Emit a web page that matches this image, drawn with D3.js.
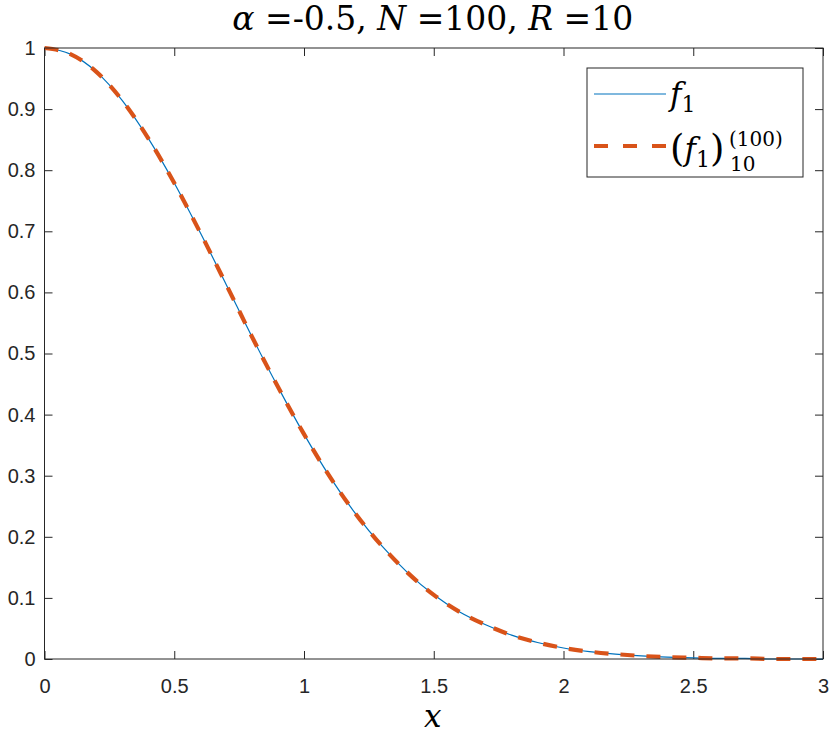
<!DOCTYPE html>
<html>
<head>
<meta charset="utf-8">
<script src="https://cdn.jsdelivr.net/npm/d3@7"></script>
<style>
  html, body { margin: 0; padding: 0; background: #fff; }
  svg { display: block; }
</style>
</head>
<body>
<svg id="chart" width="830" height="735"></svg>
<script>
// ---- data ----
const xValues = [0.0, 0.1, 0.2, 0.3, 0.4, 0.5, 0.6, 0.7, 0.8, 0.9, 1.0,
                 1.1, 1.2, 1.3, 1.4, 1.5, 1.6, 1.7, 1.8, 1.9, 2.0,
                 2.1, 2.2, 2.3, 2.4, 2.5, 2.6, 2.7, 2.8, 2.9, 3.0];
const f1Values = [1.000, 0.990, 0.961, 0.914, 0.852, 0.779, 0.698, 0.613, 0.527, 0.445, 0.368,
                  0.298, 0.237, 0.185, 0.141, 0.105, 0.077, 0.056, 0.039, 0.027, 0.018,
                  0.012, 0.008, 0.005, 0.003, 0.002, 0.001, 0.001, 0.000, 0.000, 0.000];
const approxValues = [1.000, 0.990, 0.961, 0.914, 0.852, 0.779, 0.698, 0.613, 0.527, 0.445, 0.368,
                      0.298, 0.237, 0.185, 0.141, 0.105, 0.077, 0.056, 0.039, 0.027, 0.018,
                      0.012, 0.008, 0.005, 0.003, 0.002, 0.001, 0.001, 0.000, 0.000, 0.000];
const xTicks = [0, 0.5, 1, 1.5, 2, 2.5, 3];
const xTickLabels = ["0", "0.5", "1", "1.5", "2", "2.5", "3"];
const yTicks = [0, 0.1, 0.2, 0.3, 0.4, 0.5, 0.6, 0.7, 0.8, 0.9, 1];
const yTickLabels = ["0", "0.1", "0.2", "0.3", "0.4", "0.5", "0.6", "0.7", "0.8", "0.9", "1"];

// ---- layout ----
const L = 44.5, R = 823, T = 48, B = 659;
const svg = d3.select("#chart");
const x = d3.scaleLinear().domain([0, 3]).range([L, R]);
const y = d3.scaleLinear().domain([0, 1]).range([B, T]);
const axisColor = "#262626";
const tickFont = "'Liberation Sans', Arial, sans-serif";
const mathFont = "'DejaVu Serif', serif";

function styleAxis(g) {
  g.select(".domain").remove();
  g.selectAll(".tick line").attr("stroke", axisColor).attr("stroke-width", 1);
  g.selectAll(".tick text").attr("fill", axisColor)
    .style("font-family", tickFont).style("font-size", "20px");
}
svg.append("g").attr("transform", `translate(0,${B})`)
  .call(d3.axisBottom(x).tickValues(xTicks).tickSizeInner(-8).tickSizeOuter(0)
    .tickPadding(20).tickFormat((d, i) => xTickLabels[i]))
  .call(styleAxis);
svg.append("g").attr("transform", `translate(0,${T})`)
  .call(d3.axisTop(x).tickValues(xTicks).tickSizeInner(-8).tickSizeOuter(0).tickFormat(""))
  .call(styleAxis);
svg.append("g").attr("transform", `translate(${L},0)`)
  .call(d3.axisLeft(y).tickValues(yTicks).tickSizeInner(-8).tickSizeOuter(0)
    .tickPadding(9).tickFormat((d, i) => yTickLabels[i]))
  .call(styleAxis);
svg.append("g").attr("transform", `translate(${R},0)`)
  .call(d3.axisRight(y).tickValues(yTicks).tickSizeInner(-8).tickSizeOuter(0).tickFormat(""))
  .call(styleAxis);

// lines
const line = d3.line().x(d => x(d[0])).y(d => y(d[1])).curve(d3.curveMonotoneX);
svg.append("path").datum(xValues.map((v, i) => [v, f1Values[i]]))
  .attr("d", line).attr("fill", "none").attr("stroke", "#0072BD").attr("stroke-width", 1.2);
svg.append("path").datum(xValues.map((v, i) => [v, approxValues[i]]))
  .attr("d", line).attr("fill", "none").attr("stroke", "#D95319").attr("stroke-width", 4.2)
  .attr("stroke-dasharray", "14,12");

// box
svg.append("rect").attr("x", L).attr("y", T).attr("width", R - L).attr("height", B - T)
  .attr("fill", "none").attr("stroke", axisColor).attr("stroke-width", 1);

// title
const title = svg.append("text").attr("x", (L + R) / 2 - 1).attr("y", 30)
  .attr("text-anchor", "middle").style("font-family", mathFont).style("font-size", "33px")
  .attr("fill", "#000");
title.append("tspan").style("font-style", "italic").text("α");
title.append("tspan").text(" =-0.5, ");
title.append("tspan").style("font-style", "italic").text("N");
title.append("tspan").text(" =100, ");
title.append("tspan").style("font-style", "italic").text("R");
title.append("tspan").text(" =10");

// x label
svg.append("text").attr("x", (L + R) / 2 - 1).attr("y", 727).attr("text-anchor", "middle")
  .style("font-family", mathFont).style("font-size", "31px").style("font-style", "italic")
  .attr("fill", "#000").text("x");

// legend
const lg = svg.append("g");
lg.append("rect").attr("x", 587).attr("y", 68).attr("width", 216).attr("height", 109)
  .attr("fill", "#fff").attr("stroke", axisColor).attr("stroke-width", 1);
lg.append("line").attr("x1", 594).attr("x2", 666).attr("y1", 94).attr("y2", 94)
  .attr("stroke", "#0072BD").attr("stroke-width", 1.2);
lg.append("line").attr("x1", 594).attr("x2", 666).attr("y1", 146).attr("y2", 146)
  .attr("stroke", "#D95319").attr("stroke-width", 4.2).attr("stroke-dasharray", "14,15");
const t1 = lg.append("text").attr("x", 670).attr("y", 105)
  .style("font-family", mathFont).style("font-size", "31px").attr("fill", "#000");
t1.append("tspan").style("font-style", "italic").text("f");
t1.append("tspan").attr("dy", 7).style("font-size", "22px").text("1");
const t2 = lg.append("text").attr("x", 670).attr("y", 160)
  .style("font-family", mathFont).style("font-size", "31px").attr("fill", "#000");
t2.append("tspan").style("font-size", "37px").attr("dy", 1).text("(");
t2.append("tspan").attr("dy", -1).style("font-style", "italic").text("f");
t2.append("tspan").attr("dy", 7).style("font-size", "22px").text("1");
t2.append("tspan").attr("dy", -6).style("font-size", "37px").text(")");
lg.append("text").attr("x", 729).attr("y", 146)
  .style("font-family", mathFont).style("font-size", "20px").attr("fill", "#000").text("(100)");
lg.append("text").attr("x", 730).attr("y", 171)
  .style("font-family", mathFont).style("font-size", "20px").attr("fill", "#000").text("10");
</script>
</body>
</html>
